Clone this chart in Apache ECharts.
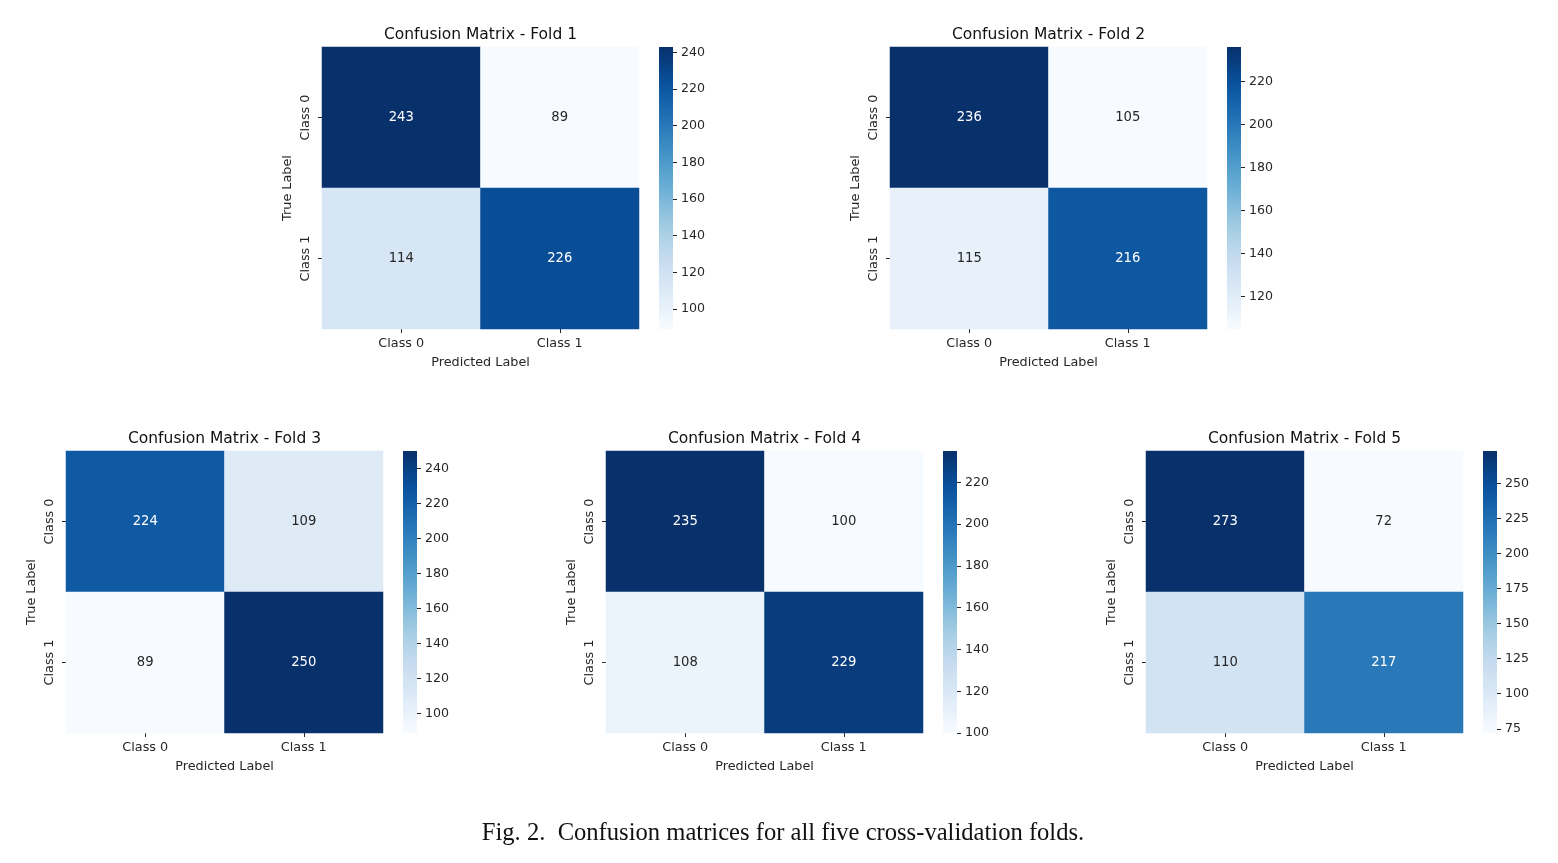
<!DOCTYPE html>
<html>
<head>
<meta charset="utf-8">
<script src="https://cdn.jsdelivr.net/npm/echarts@6/dist/echarts.min.js"></script>
<style>
  html, body { margin: 0; padding: 0; background: #fff; }
  #chart { width: 1558px; height: 863px; }
</style>
</head>
<body>
<div id="chart"></div>
<script>
// labels
const classes = ['Class 0', 'Class 1'];
const foldTitles = [
  'Confusion Matrix - Fold 1',
  'Confusion Matrix - Fold 2',
  'Confusion Matrix - Fold 3',
  'Confusion Matrix - Fold 4',
  'Confusion Matrix - Fold 5'
];

// matrices: rows = true label, cols = predicted label
const fold1 = [[243, 89], [114, 226]];
const fold2 = [[236, 105], [115, 216]];
const fold3 = [[224, 109], [89, 250]];
const fold4 = [[235, 100], [108, 229]];
const fold5 = [[273, 72], [110, 217]];
const folds = [fold1, fold2, fold3, fold4, fold5];

// colorbar tick labels
const fold1Ticks = [100, 120, 140, 160, 180, 200, 220, 240];
const fold2Ticks = [120, 140, 160, 180, 200, 220];
const fold3Ticks = [100, 120, 140, 160, 180, 200, 220, 240];
const fold4Ticks = [100, 120, 140, 160, 180, 200, 220];
const fold5Ticks = [75, 100, 125, 150, 175, 200, 225, 250];
const foldTicks = [fold1Ticks, fold2Ticks, fold3Ticks, fold4Ticks, fold5Ticks];

const caption = 'Fig. 2.  Confusion matrices for all five cross-validation folds.';

// matplotlib "Blues"
const blues = ['#f7fbff', '#deebf7', '#c6dbef', '#9ecae1', '#6baed6',
               '#4292c6', '#2171b5', '#08519c', '#08306b'];

// layout (left, top) of each heatmap
const boxes = [[322, 47], [890, 47], [66, 451], [606, 451], [1146, 451]];
const W = 317, H = 282;
const CB_GAP = 20, CB_W = 14;
const FONT = 'DejaVu Sans';
const INK = '#262626';
const FS = 12.8;

const chart = echarts.init(document.getElementById('chart'));

const grid = [], xAxis = [], yAxis = [], series = [], visualMap = [], graphic = [];

folds.forEach((m, i) => {
  const [left, top] = boxes[i];
  const flat = m.flat();
  const vmin = Math.min(...flat), vmax = Math.max(...flat);

  // heatmap grid
  grid.push({ left: left, top: top, width: W, height: H });
  xAxis.push({
    type: 'category', gridIndex: 2 * i, data: classes, position: 'bottom',
    axisLine: { show: false },
    axisTick: { show: true, alignWithLabel: true, length: 4, lineStyle: { color: INK } },
    axisLabel: { color: INK, fontSize: FS, fontFamily: FONT, margin: 8 },
    splitLine: { show: false },
    name: 'Predicted Label', nameLocation: 'middle', nameGap: 27,
    nameTextStyle: { color: INK, fontSize: FS, fontFamily: FONT }
  });
  yAxis.push({
    type: 'category', gridIndex: 2 * i, data: classes, inverse: true,
    axisLine: { show: false },
    axisTick: { show: true, alignWithLabel: true, length: 4, lineStyle: { color: INK } },
    axisLabel: { color: INK, fontSize: FS, fontFamily: FONT, rotate: 90, margin: 10, align: 'center', verticalAlign: 'bottom' },
    splitLine: { show: false },
    name: 'True Label', nameLocation: 'middle', nameGap: 28,
    nameTextStyle: { color: INK, fontSize: FS, fontFamily: FONT }
  });

  const data = [];
  m.forEach((row, r) => {
    row.forEach((v, c) => {
      const t = (v - vmin) / (vmax - vmin);
      data.push({ value: [c, r, v], label: { color: t > 0.45 ? '#ffffff' : INK } });
    });
  });
  series.push({
    type: 'heatmap', xAxisIndex: 2 * i, yAxisIndex: 2 * i, data: data,
    label: { show: true, fontSize: 13.2, fontFamily: FONT },
    emphasis: { disabled: true },
    progressive: 0
  });
  visualMap.push({
    show: false, type: 'continuous', seriesIndex: series.length - 1,
    dimension: 2, min: vmin, max: vmax, inRange: { color: blues }
  });

  // colorbar grid
  grid.push({ left: left + W + CB_GAP, top: top, width: CB_W, height: H });
  xAxis.push({ type: 'value', gridIndex: 2 * i + 1, min: 0, max: 1, show: false });
  yAxis.push({
    type: 'value', gridIndex: 2 * i + 1, position: 'right', min: vmin, max: vmax,
    axisLine: { show: false, onZero: false },
    splitLine: { show: false },
    axisTick: { show: true, inside: false, length: 4, customValues: foldTicks[i], lineStyle: { color: INK } },
    axisLabel: { color: INK, fontSize: 12.6, fontFamily: FONT, margin: 8, customValues: foldTicks[i] }
  });
  series.push({
    type: 'custom', xAxisIndex: 2 * i + 1, yAxisIndex: 2 * i + 1,
    data: [[0, vmin, vmax]],
    encode: { x: 0, y: [1, 2] },
    silent: true,
    renderItem: function (params, api) {
      const p0 = api.coord([0, api.value(2)]);
      const p1 = api.coord([1, api.value(1)]);
      return {
        type: 'rect',
        shape: { x: p0[0], y: p0[1], width: p1[0] - p0[0], height: p1[1] - p0[1] },
        style: {
          fill: new echarts.graphic.LinearGradient(0, 1, 0, 0,
            blues.map((c, k) => ({ offset: k / (blues.length - 1), color: c })))
        }
      };
    }
  });

  graphic.push({
    type: 'text', x: left + W / 2, y: top - 12,
    style: { text: foldTitles[i], align: 'center', verticalAlign: 'middle',
             font: '15.5px "DejaVu Sans"', fill: '#111' }
  });
});

graphic.push({
  type: 'text', x: 783, y: 834,
  style: { text: caption, align: 'center', verticalAlign: 'middle',
           font: '24.6px "Liberation Serif"', fill: '#111' }
});

chart.setOption({
  backgroundColor: '#ffffff',
  animation: false,
  grid: grid,
  xAxis: xAxis,
  yAxis: yAxis,
  visualMap: visualMap,
  series: series,
  graphic: graphic
});
</script>
</body>
</html>
